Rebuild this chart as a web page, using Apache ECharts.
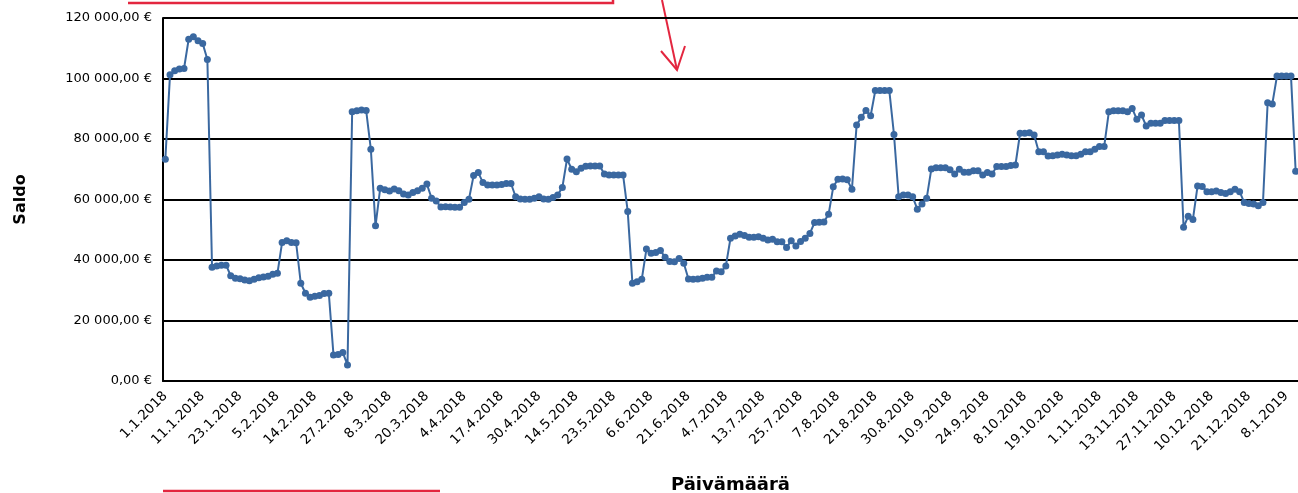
<!DOCTYPE html>
<html>
<head>
<meta charset="utf-8">
<script src="https://cdn.jsdelivr.net/npm/echarts@6/dist/echarts.min.js"></script>
<style>
    html, body { margin: 0; padding: 0; background: #fff; }
    #saldoChart { width: 1298px; height: 493px; }
</style>
</head>
<body>
<div id="saldoChart"></div>
<script>
    // päivämäärät (x-akseli)
    const dates = [
        '1.1.2018', '2.1.2018', '3.1.2018', '4.1.2018', '5.1.2018', '8.1.2018', '9.1.2018', '10.1.2018',
        '11.1.2018', '12.1.2018', '15.1.2018', '16.1.2018', '17.1.2018', '18.1.2018', '19.1.2018', '22.1.2018',
        '23.1.2018', '24.1.2018', '25.1.2018', '26.1.2018', '29.1.2018', '30.1.2018', '31.1.2018', '1.2.2018',
        '5.2.2018', '6.2.2018', '7.2.2018', '8.2.2018', '9.2.2018', '10.2.2018', '12.2.2018', '13.2.2018',
        '14.2.2018', '15.2.2018', '16.2.2018', '19.2.2018', '20.2.2018', '21.2.2018', '22.2.2018', '23.2.2018',
        '27.2.2018', '28.2.2018', '1.3.2018', '2.3.2018', '3.3.2018', '5.3.2018', '6.3.2018', '7.3.2018',
        '8.3.2018', '9.3.2018', '12.3.2018', '13.3.2018', '14.3.2018', '15.3.2018', '16.3.2018', '19.3.2018',
        '20.3.2018', '21.3.2018', '22.3.2018', '23.3.2018', '26.3.2018', '27.3.2018', '28.3.2018', '29.3.2018',
        '4.4.2018', '5.4.2018', '6.4.2018', '9.4.2018', '10.4.2018', '11.4.2018', '12.4.2018', '13.4.2018',
        '17.4.2018', '18.4.2018', '19.4.2018', '20.4.2018', '23.4.2018', '24.4.2018', '25.4.2018', '26.4.2018',
        '30.4.2018', '2.5.2018', '3.5.2018', '4.5.2018', '7.5.2018', '8.5.2018', '9.5.2018', '11.5.2018',
        '14.5.2018', '15.5.2018', '16.5.2018', '17.5.2018', '18.5.2018', '19.5.2018', '21.5.2018', '22.5.2018',
        '23.5.2018', '24.5.2018', '25.5.2018', '28.5.2018', '30.5.2018', '31.5.2018', '1.6.2018', '4.6.2018',
        '6.6.2018', '7.6.2018', '8.6.2018', '11.6.2018', '13.6.2018', '15.6.2018', '18.6.2018', '20.6.2018',
        '21.6.2018', '25.6.2018', '26.6.2018', '27.6.2018', '28.6.2018', '29.6.2018', '2.7.2018', '3.7.2018',
        '4.7.2018', '5.7.2018', '6.7.2018', '7.7.2018', '9.7.2018', '10.7.2018', '11.7.2018', '12.7.2018',
        '13.7.2018', '16.7.2018', '17.7.2018', '18.7.2018', '19.7.2018', '20.7.2018', '23.7.2018', '24.7.2018',
        '25.7.2018', '26.7.2018', '27.7.2018', '30.7.2018', '31.7.2018', '2.8.2018', '3.8.2018', '6.8.2018',
        '7.8.2018', '8.8.2018', '9.8.2018', '10.8.2018', '13.8.2018', '15.8.2018', '16.8.2018', '20.8.2018',
        '21.8.2018', '22.8.2018', '23.8.2018', '24.8.2018', '25.8.2018', '27.8.2018', '28.8.2018', '29.8.2018',
        '30.8.2018', '31.8.2018', '1.9.2018', '3.9.2018', '4.9.2018', '5.9.2018', '6.9.2018', '7.9.2018',
        '10.9.2018', '11.9.2018', '12.9.2018', '13.9.2018', '17.9.2018', '18.9.2018', '19.9.2018', '21.9.2018',
        '24.9.2018', '25.9.2018', '26.9.2018', '27.9.2018', '1.10.2018', '2.10.2018', '3.10.2018', '5.10.2018',
        '8.10.2018', '9.10.2018', '10.10.2018', '11.10.2018', '15.10.2018', '16.10.2018', '17.10.2018', '18.10.2018',
        '19.10.2018', '22.10.2018', '23.10.2018', '24.10.2018', '26.10.2018', '29.10.2018', '30.10.2018', '31.10.2018',
        '1.11.2018', '2.11.2018', '5.11.2018', '6.11.2018', '7.11.2018', '8.11.2018', '9.11.2018', '12.11.2018',
        '13.11.2018', '14.11.2018', '15.11.2018', '16.11.2018', '19.11.2018', '21.11.2018', '23.11.2018', '26.11.2018',
        '27.11.2018', '28.11.2018', '29.11.2018', '30.11.2018', '3.12.2018', '4.12.2018', '5.12.2018', '7.12.2018',
        '10.12.2018', '11.12.2018', '12.12.2018', '13.12.2018', '17.12.2018', '18.12.2018', '19.12.2018', '20.12.2018',
        '21.12.2018', '27.12.2018', '28.12.2018', '31.12.2018', '2.1.2019', '3.1.2019', '4.1.2019', '7.1.2019',
        '8.1.2019', '9.1.2019', '10.1.2019'
    ]

    // saldo (€)
    const saldo = [
        73300, 101200, 102600, 103100, 103300, 113000, 113800, 112500, 111600, 106300,
        37600, 38000, 38300, 38300, 34800, 34000, 33800, 33400, 33100, 33600,
        34100, 34400, 34600, 35300, 35600, 45800, 46400, 45800, 45700, 32300,
        29000, 27700, 28000, 28300, 28900, 29000, 8600, 8800, 9400, 5300,
        89000, 89300, 89600, 89400, 76600, 51300, 63700, 63200, 62800, 63500,
        62900, 61800, 61500, 62300, 62900, 63700, 65100, 60400, 59500, 57500,
        57600, 57500, 57400, 57400, 59000, 60100, 67900, 68900, 65600, 64800,
        64800, 64800, 65000, 65300, 65300, 60900, 60200, 60100, 60100, 60400,
        60900, 60200, 60100, 60700, 61500, 64000, 73400, 70000, 69200, 70300,
        71000, 71100, 71100, 71100, 68400, 68100, 68100, 68100, 68100, 56000,
        32300, 32800, 33600, 43600, 42200, 42500, 43100, 40900, 39500, 39400,
        40500, 38900, 33700, 33600, 33700, 34000, 34300, 34300, 36400, 36100,
        38000, 47200, 47900, 48500, 48100, 47500, 47500, 47700, 47200, 46600,
        46900, 46000, 46000, 44100, 46400, 44600, 46100, 47200, 48800, 52400,
        52500, 52600, 55100, 64200, 66700, 66800, 66500, 63400, 84600, 87200,
        89400, 87700, 96000, 96000, 96000, 96000, 81500, 60900, 61500, 61500,
        60900, 56800, 58500, 60400, 70100, 70500, 70500, 70500, 69800, 68400,
        70000, 69000, 69000, 69500, 69500, 68100, 68900, 68400, 70900, 70900,
        70900, 71200, 71400, 81900, 81900, 82100, 81300, 75800, 75800, 74400,
        74500, 74700, 75000, 74700, 74500, 74500, 75000, 75800, 75800, 76600,
        77500, 77500, 89000, 89300, 89300, 89300, 89000, 90100, 86500, 87900,
        84300, 85200, 85200, 85200, 86100, 86100, 86100, 86100, 50800, 54500,
        53400, 64500, 64300, 62600, 62600, 62800, 62300, 62000, 62600, 63400,
        62600, 59000, 58700, 58500, 57900, 59000, 92000, 91600, 100800, 100800,
        100800, 100800, 69300
    ]

    // y-akselin asteikko
    const yMin = 0
    const yMax = 120000
    const yStep = 20000

    const lineColor = '#3a68a0'
    const red = '#e3263f'
    const font = 'DejaVu Sans'

    // 120000 -> "120 000,00 €"
    function euro (v) {
        const s = String(Math.round(v)).replace(/\B(?=(\d{3})+(?!\d))/g, ' ')
        return s + ',00 €'
    }

    const chart = echarts.init(document.getElementById('saldoChart'), null, {renderer: 'canvas'})
    chart.setOption({
        animation: false,
        grid: {
            left: 163,
            right: 0,
            top: 18,
            bottom: 112,
            outerBoundsMode: 'none'
        },
        xAxis: {
            type: 'category',
            data: dates,
            boundaryGap: true,
            name: 'Päivämäärä',
            nameLocation: 'middle',
            nameGap: 95,
            nameTextStyle: {
                fontFamily: font,
                fontSize: 18,
                fontWeight: 'bold',
                color: '#000'
            },
            axisLine: {
                lineStyle: {color: '#000', width: 2}
            },
            axisTick: {show: false},
            axisLabel: {
                interval: 7,
                rotate: 45,
                margin: 13,
                fontFamily: font,
                fontSize: 13.5,
                color: '#000'
            },
            splitLine: {show: false}
        },
        yAxis: {
            type: 'value',
            min: yMin,
            max: yMax,
            interval: yStep,
            name: 'Saldo',
            nameLocation: 'middle',
            nameGap: 134,
            nameRotate: 90,
            nameTextStyle: {
                fontFamily: font,
                fontSize: 16,
                fontWeight: 'bold',
                color: '#000'
            },
            axisLine: {
                show: true,
                lineStyle: {color: '#000', width: 2}
            },
            axisTick: {show: false},
            axisLabel: {
                margin: 11,
                fontFamily: font,
                fontSize: 13,
                color: '#000',
                formatter: euro
            },
            splitLine: {
                lineStyle: {color: '#000', width: 2}
            }
        },
        series: [{
            type: 'line',
            data: saldo,
            showAllSymbol: true,
            symbol: 'circle',
            symbolSize: 7,
            lineStyle: {color: lineColor, width: 2},
            itemStyle: {color: lineColor}
        }],
        // punaiset merkinnät kuvan päällä
        graphic: [
            {
                type: 'polyline',
                shape: {points: [[128, 3], [613, 3], [613, 0]]},
                style: {stroke: red, lineWidth: 2.5, fill: null}
            },
            {
                type: 'line',
                shape: {x1: 662, y1: 0, x2: 677, y2: 70},
                style: {stroke: red, lineWidth: 2}
            },
            {
                type: 'polyline',
                shape: {points: [[661, 51], [677, 70], [685, 46]]},
                style: {stroke: red, lineWidth: 2, fill: null}
            },
            {
                type: 'line',
                shape: {x1: 163, y1: 491, x2: 440, y2: 491},
                style: {stroke: red, lineWidth: 2.5}
            }
        ]
    })

    window.onresize = () => {
        chart.resize()
    }
</script>
</body>
</html>
